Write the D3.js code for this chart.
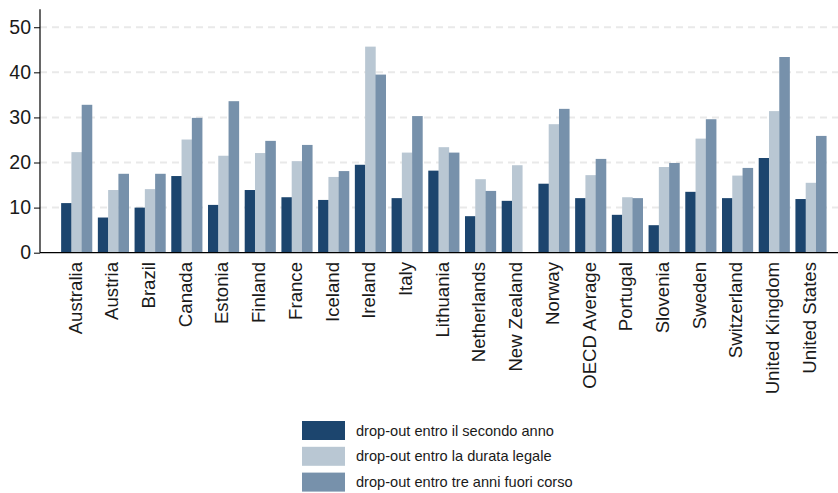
<!DOCTYPE html>
<html><head><meta charset="utf-8">
<script src="https://cdn.jsdelivr.net/npm/d3@7/dist/d3.min.js"></script>
<style>body{margin:0;background:#fff}svg{display:block}text{font-family:"Liberation Sans",Arial,sans-serif}</style>
</head><body><svg id="c" width="838" height="493"></svg>
<script>
const categories = ["Australia","Austria","Brazil","Canada","Estonia","Finland","France","Iceland","Ireland","Italy","Lithuania","Netherlands","New Zealand","Norway","OECD Average","Portugal","Slovenia","Sweden","Switzerland","United Kingdom","United States"];
const seriesNames = ["drop-out entro il secondo anno","drop-out entro la durata legale","drop-out entro tre anni fuori corso"];
const secondoAnno = [11.0,7.8,10.0,17.0,10.6,13.9,12.3,11.7,19.5,12.1,18.2,8.1,11.5,15.3,12.1,8.4,6.1,13.5,12.1,21.0,11.9];
const durataLegale = [22.3,13.9,14.1,25.1,21.5,22.1,20.3,16.8,45.7,22.2,23.4,16.3,19.4,28.5,17.2,12.3,19.0,25.3,17.1,31.4,15.5];
const treAnniFuori = [32.8,17.5,17.5,29.9,33.6,24.8,23.9,18.1,39.5,30.3,22.2,13.7,null,31.9,20.8,12.1,19.9,29.6,18.8,43.4,25.9];
const yTicks = [0,10,20,30,40,50];
const colors = ["#1c456e","#b9c7d3","#7791ab"];

const series = [secondoAnno, durataLegale, treAnniFuori];
const svg = d3.select("#c");
const y = d3.scaleLinear().domain([0,54]).range([252.7,9.2]);
const x = d3.scaleBand().domain(categories).range([58.2,829.2]).paddingInner(0.16).paddingOuter(0.08);
const xs = d3.scaleBand().domain(d3.range(3)).range([0,x.bandwidth()]);

// gridlines
svg.append("g").selectAll("line").data(yTicks.filter(d=>d>0)).join("line")
  .attr("x1",40).attr("x2",838).attr("y1",d=>y(d)).attr("y2",d=>y(d))
  .attr("stroke","#e9e9e9").attr("stroke-width",2).attr("stroke-dasharray","7,5");

// bars
const g = svg.append("g");
categories.forEach((c,i)=>{
  series.forEach((s,k)=>{
    const v = s[i];
    if(v==null) return;
    g.append("rect").attr("x",x(c)+xs(k)).attr("width",xs.bandwidth()+0.3)
      .attr("y",y(v)).attr("height",y(0)-y(v)).attr("fill",colors[k]);
  });
});

// y axis
const ya = svg.append("g").attr("transform","translate(40,0)")
  .call(d3.axisLeft(y).tickValues(yTicks).tickSize(6).tickPadding(3));
ya.select(".domain").remove();
ya.selectAll("line").attr("stroke","#000");
ya.selectAll("text").attr("font-size",19.5).attr("fill","#1a1a1a").attr("font-family","Liberation Sans, Arial, sans-serif");
svg.append("line").attr("x1",40).attr("x2",40).attr("y1",y(54)).attr("y2",y(0)).attr("stroke","#000").attr("stroke-width",1.2);

// x axis
svg.append("line").attr("x1",40).attr("x2",838).attr("y1",y(0)).attr("y2",y(0)).attr("stroke","#000").attr("stroke-width",1.2);
svg.append("g").selectAll("text").data(categories).join("text")
  .attr("transform",d=>`translate(${x(d)+x.bandwidth()/2+5},262) rotate(-90)`)
  .attr("text-anchor","end").attr("font-size",18.6).attr("fill","#1a1a1a").text(d=>d);

// legend
const lg = svg.append("g");
seriesNames.forEach((n,k)=>{
  const yy = 421 + k*25.8;
  lg.append("rect").attr("x",302).attr("y",yy).attr("width",43).attr("height",19).attr("fill",colors[k]);
  lg.append("text").attr("x",356).attr("y",yy+14.5).attr("font-size",14.6).attr("fill","#1a1a1a").text(n);
});
</script></body></html>
